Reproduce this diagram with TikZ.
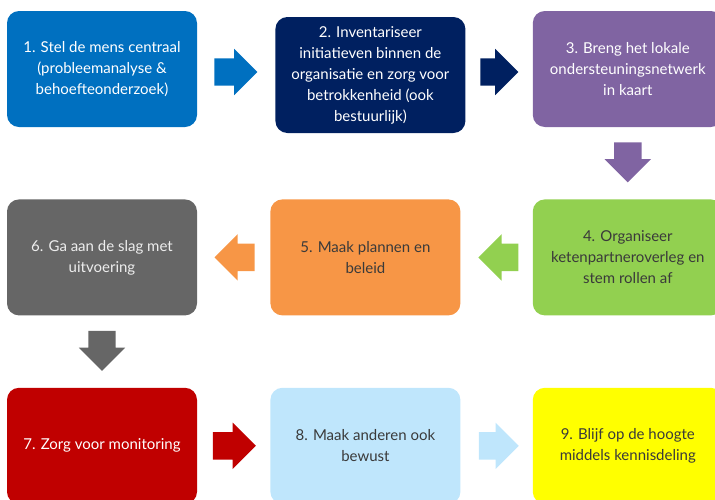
\documentclass[tikz,border=0pt]{standalone}
\usepackage{fontspec}
\setmainfont{Lato}
\usetikzlibrary{shapes.arrows, positioning, calc}

\definecolor{blauw}{HTML}{0070C0}
\definecolor{donkerblauw}{HTML}{002060}
\definecolor{paars}{HTML}{8064A2}
\definecolor{groen}{HTML}{92D050}
\definecolor{oranje}{HTML}{F79646}
\definecolor{grijs}{HTML}{666666}
\definecolor{rood}{HTML}{C00000}
\definecolor{lichtblauw}{HTML}{BFE6FC}
\definecolor{geel}{HTML}{FFFF00}
\definecolor{tekst}{HTML}{3A3A3A}

\tikzset{
  stap/.style={rounded corners=12pt, minimum width=190pt, minimum height=116pt,
    inner sep=0pt, align=center, font=\fontsize{15}{21}\selectfont},
  pijl/.style={single arrow, inner xsep=0pt, inner ysep=13.5pt,
    single arrow head extend=9.5pt, minimum height=43pt, anchor=tail}
}

\begin{document}
\begin{tikzpicture}
\useasboundingbox (0,0) rectangle (715pt,-499pt);
\clip (0,0) rectangle (715pt,-499pt);

\node[stap, fill=blauw, text=white] (b1) at (102pt,-69pt)
  {1. Stel de mens centraal\\(probleemanalyse \&\\behoefteonderzoek)};
\node[stap, fill=donkerblauw, text=white, right=78pt of b1, yshift=-6pt] (b2)
  {2. Inventariseer\\initiatieven binnen de\\organisatie en zorg voor\\betrokkenheid (ook\\bestuurlijk)};
\node[stap, fill=paars, text=white, right=67pt of b2, yshift=6pt] (b3)
  {3. Breng het lokale\\ondersteuningsnetwerk\\in kaart};
\node[stap, fill=groen, text=tekst, below=72pt of b3] (b4)
  {4. Organiseer\\ketenpartneroverleg en\\stem rollen af};
\node[stap, fill=oranje, text=tekst, left=72pt of b4] (b5)
  {5. Maak plannen en\\beleid};
\node[stap, fill=grijs, text=white!93!black, left=73pt of b5] (b6)
  {6. Ga aan de slag met\\uitvoering};
\node[stap, fill=rood, text=white, below=72pt of b6] (b7)
  {7. Zorg voor monitoring};
\node[stap, fill=lichtblauw, text=tekst, right=73pt of b7] (b8)
  {8. Maak anderen ook\\bewust};
\node[stap, fill=geel, text=tekst, right=72pt of b8] (b9)
  {9. Blijf op de hoogte\\middels kennisdeling};

\node[pijl, fill=blauw] (p12) at ($(b1)!.5!(b2)+(-22pt,0)$) {};
\node[pijl, fill=donkerblauw, minimum height=38pt] (p23) at ($(b2)!.5!(b3)+(-19pt,0)$) {};
\node[pijl, fill=paars, rotate=270, minimum height=40pt] (p34) at ($(b3)!.5!(b4)+(0,21pt)$) {};
\node[pijl, fill=groen, rotate=180, minimum height=40pt] (p45) at ($(b4)!.5!(b5)+(22pt,0)$) {};
\node[pijl, fill=oranje, rotate=180, minimum height=40pt] (p56) at ($(b5)!.5!(b6)+(21pt,0)$) {};
\node[pijl, fill=grijs, rotate=270, minimum height=40pt] (p67) at ($(b6)!.5!(b7)+(0,21pt)$) {};
\node[pijl, fill=rood] (p78) at ($(b7)!.5!(b8)+(-21pt,0)$) {};
\node[pijl, fill=lichtblauw, minimum height=40pt] (p89) at ($(b8)!.5!(b9)+(-18pt,0)$) {};
\end{tikzpicture}
\end{document}
